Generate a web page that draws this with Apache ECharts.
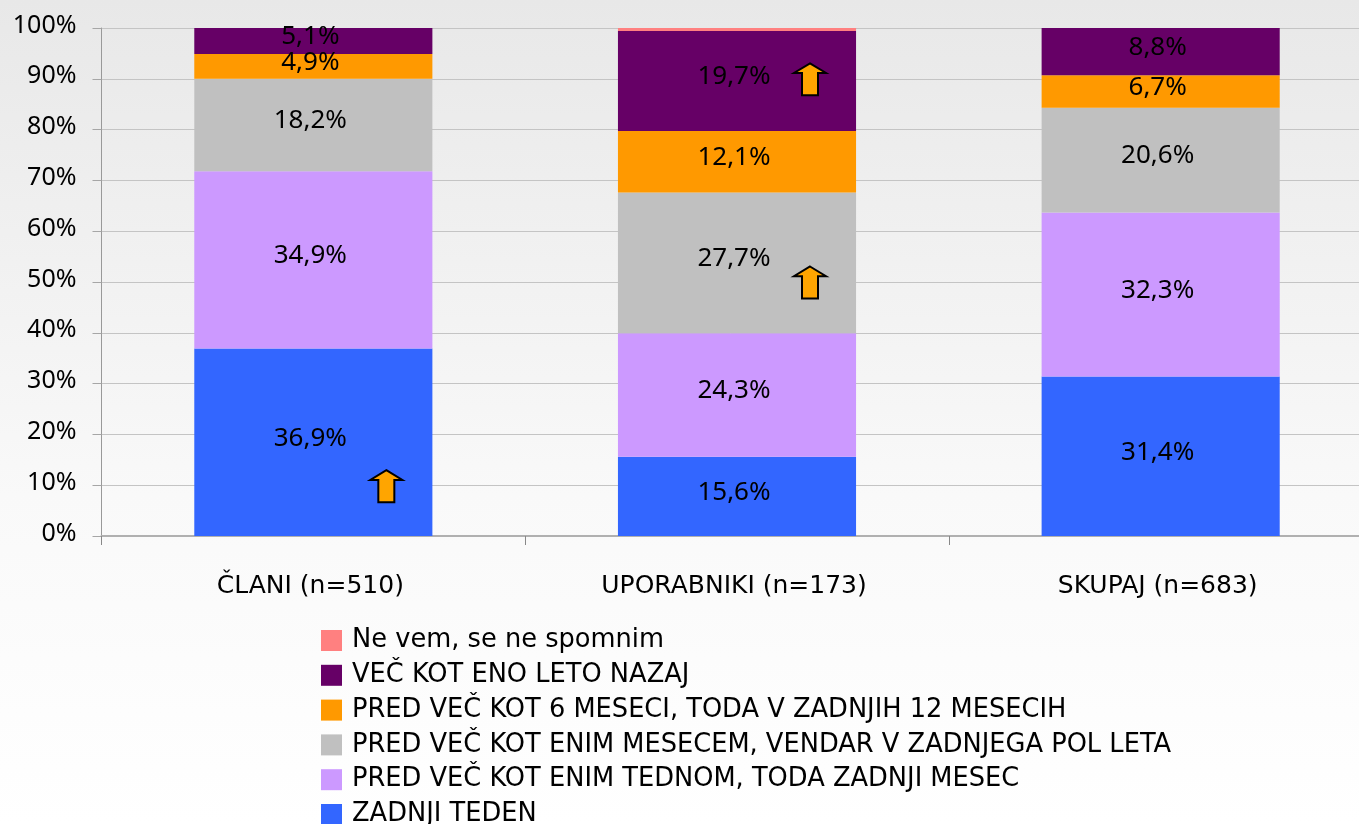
<!DOCTYPE html>
<html><head><meta charset="utf-8">
<style>html,body{margin:0;padding:0;background:#fff}#c{width:1359px;height:824px}</style>
<script src="https://cdn.jsdelivr.net/npm/echarts@6/dist/echarts.min.js"></script>
</head><body><div id="c"></div>
<script>
const categories = ['ČLANI (n=510)', 'UPORABNIKI (n=173)', 'SKUPAJ (n=683)'];
const seriesNames = ['ZADNJI TEDEN', 'PRED VEČ KOT ENIM TEDNOM, TODA ZADNJI MESEC', 'PRED VEČ KOT ENIM MESECEM, VENDAR V ZADNJEGA POL LETA', 'PRED VEČ KOT 6 MESECI, TODA V ZADNJIH 12 MESECIH', 'VEČ KOT ENO LETO NAZAJ', 'Ne vem, se ne spomnim'];
// Segment heights as drawn in the picture
const zadnjiTeden = [36.9, 15.6, 31.4];
const enimTednom = [34.9, 24.3, 32.3];
const enimMesecem = [18.2, 27.7, 20.6];
const sestMeseci = [4.9, 12.1, 6.4];
const enoLeto = [5.1, 19.7, 9.3];
const neVem = [0, 0.6, 0];
// Printed labels where they differ from the drawn height
const printedSestMeseci = [4.9, 12.1, 6.7];
const printedEnoLeto = [5.1, 19.7, 8.8];
const colors = ['#3366FF', '#CC99FF', '#C0C0C0', '#FF9900', '#660066', '#FF8080'];
const arrowPoints = [[categories[0], 9.8], [categories[1], 89.9], [categories[1], 49.9]];
const values = [zadnjiTeden, enimTednom, enimMesecem, sestMeseci, enoLeto, neVem];
const printed = [zadnjiTeden, enimTednom, enimMesecem, printedSestMeseci, printedEnoLeto, neVem];
const FONT = '"DejaVu Sans"';
const NUMFONT = '"Noto Sans"';
const arrow = 'path://M17 0 L33 10 L25 10 L25 33 L9 33 L9 10 L1 10 Z';
const chart = echarts.init(document.getElementById('c'), null, {renderer: 'canvas'});
const fmt = v => v.toFixed(1).replace('.', ',') + '%';
chart.setOption({
  animation: false,
  backgroundColor: {type: 'linear', x: 0, y: 0, x2: 0, y2: 1, colorStops: [
    {offset: 0, color: '#E8E8E8'}, {offset: 0.6, color: '#F9F9F9'}, {offset: 1, color: '#FFFFFF'}]},
  grid: {left: 101.5, top: 28, width: 1271, height: 508, containLabel: false, outerBoundsMode: 'none'},
  legend: {
    orient: 'vertical', left: 321, top: 627.5, height: 400, itemWidth: 21, itemHeight: 21, itemGap: 8.8,
    padding: 0, selectedMode: false, icon: 'rect',
    data: seriesNames.slice().reverse(),
    textStyle: {fontFamily: FONT, fontSize: 25.7, color: '#000', lineHeight: 21, padding: [0, 0, 0, 5]}
  },
  xAxis: {
    type: 'category', data: categories,
    axisLine: {lineStyle: {color: '#B0B0B0', width: 2}},
    axisTick: {show: true, length: 9, lineStyle: {color: '#888', width: 1}},
    axisLabel: {fontFamily: FONT, fontSize: 25, color: '#000', margin: 38, padding: [0, 6, 0, 0]}
  },
  yAxis: {
    type: 'value', min: 0, max: 100, interval: 10,
    axisLine: {show: true, lineStyle: {color: '#999', width: 1}},
    axisTick: {show: true, length: 9, lineStyle: {color: '#A6A6A6', width: 1}},
    splitLine: {show: true, lineStyle: {color: '#C4C4C4', width: 1}},
    axisLabel: {fontFamily: NUMFONT, fontSize: 25, color: '#000', margin: 25, formatter: '{value}%', verticalAlign: 'bottom', lineHeight: 5}
  },
  series: seriesNames.map((name, i) => ({
    name, type: 'bar', stack: 'all', barWidth: '56.2%',
    data: values[i],
    itemStyle: {color: colors[i]},
    label: i === 5 ? {show: false} : {
      show: true, position: 'inside', offset: [-3, -4],
      fontFamily: NUMFONT, fontSize: 26, color: '#000', formatter: p => fmt(printed[i][p.dataIndex])
    }
  })).concat([{
    type: 'scatter', data: arrowPoints, symbol: arrow, symbolSize: [32, 32], symbolOffset: [73, 0],
    itemStyle: {color: '#FFA500', borderColor: '#000', borderWidth: 2, opacity: 1}, z: 10, silent: true
  }])
});
</script></body></html>
